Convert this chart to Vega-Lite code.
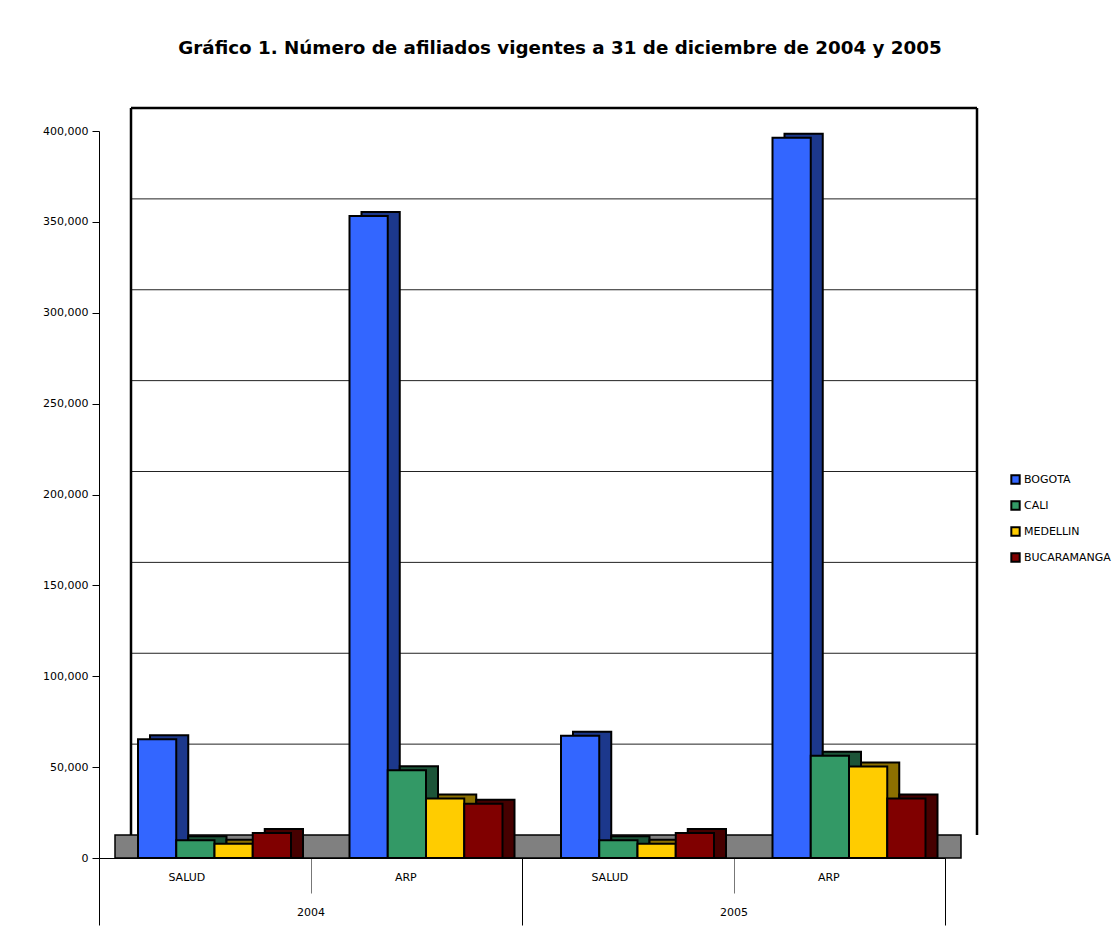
{
  "$schema": "https://vega.github.io/schema/vega-lite/v6.json",
  "width": 846,
  "height": 727,
  "autosize": {"type": "none"},
  "padding": {"left": 99, "top": 131, "right": 171, "bottom": 81},
  "background": "white",
  "title": {
    "text": "Gráfico 1. Número de afiliados vigentes a 31 de diciembre de 2004 y 2005",
    "font": "DejaVu Sans", "fontSize": 18.3, "fontWeight": "bold", "color": "black",
    "anchor": "middle", "frame": "group", "offset": 48, "dx": 38
  },
  "config": {
    "view": {"stroke": null},
    "axis": {"labelFont": "DejaVu Sans", "labelColor": "black", "labelFontSize": 11}
  },
  "data": {
    "values": [
      {"anio": "2004", "tipo": "SALUD", "grupo": "2004|SALUD", "ciudad": "BOGOTA", "valor": 62000},
      {"anio": "2004", "tipo": "SALUD", "grupo": "2004|SALUD", "ciudad": "CALI", "valor": 6500},
      {"anio": "2004", "tipo": "SALUD", "grupo": "2004|SALUD", "ciudad": "MEDELLIN", "valor": 4500},
      {"anio": "2004", "tipo": "SALUD", "grupo": "2004|SALUD", "ciudad": "BUCARAMANGA", "valor": 10500},
      {"anio": "2004", "tipo": "ARP", "grupo": "2004|ARP", "ciudad": "BOGOTA", "valor": 350000},
      {"anio": "2004", "tipo": "ARP", "grupo": "2004|ARP", "ciudad": "CALI", "valor": 45000},
      {"anio": "2004", "tipo": "ARP", "grupo": "2004|ARP", "ciudad": "MEDELLIN", "valor": 29500},
      {"anio": "2004", "tipo": "ARP", "grupo": "2004|ARP", "ciudad": "BUCARAMANGA", "valor": 26500},
      {"anio": "2005", "tipo": "SALUD", "grupo": "2005|SALUD", "ciudad": "BOGOTA", "valor": 64000},
      {"anio": "2005", "tipo": "SALUD", "grupo": "2005|SALUD", "ciudad": "CALI", "valor": 6500},
      {"anio": "2005", "tipo": "SALUD", "grupo": "2005|SALUD", "ciudad": "MEDELLIN", "valor": 4500},
      {"anio": "2005", "tipo": "SALUD", "grupo": "2005|SALUD", "ciudad": "BUCARAMANGA", "valor": 10500},
      {"anio": "2005", "tipo": "ARP", "grupo": "2005|ARP", "ciudad": "BOGOTA", "valor": 393000},
      {"anio": "2005", "tipo": "ARP", "grupo": "2005|ARP", "ciudad": "CALI", "valor": 53000},
      {"anio": "2005", "tipo": "ARP", "grupo": "2005|ARP", "ciudad": "MEDELLIN", "valor": 47000},
      {"anio": "2005", "tipo": "ARP", "grupo": "2005|ARP", "ciudad": "BUCARAMANGA", "valor": 29500}
    ]
  },
  "encoding": {
    "y": {
      "field": "valor", "type": "quantitative", "stack": null,
      "scale": {"domain": [0, 400000], "nice": false},
      "axis": {
        "title": null, "format": ",d", "values": [0, 50000, 100000, 150000, 200000, 250000, 300000, 350000, 400000],
        "grid": false, "domainColor": "black", "tickColor": "black", "tickSize": 7, "labelPadding": 4
      }
    }
  },
  "layer": [
    {
      "layer": [
        {
          "data": {"values": [
            {"nivel": 50000, "desde": "2004|SALUD", "hasta": "2005|ARP"},
            {"nivel": 100000, "desde": "2004|SALUD", "hasta": "2005|ARP"},
            {"nivel": 150000, "desde": "2004|SALUD", "hasta": "2005|ARP"},
            {"nivel": 200000, "desde": "2004|SALUD", "hasta": "2005|ARP"},
            {"nivel": 250000, "desde": "2004|SALUD", "hasta": "2005|ARP"},
            {"nivel": 300000, "desde": "2004|SALUD", "hasta": "2005|ARP"},
            {"nivel": 350000, "desde": "2004|SALUD", "hasta": "2005|ARP"}
          ]},
          "mark": {"type": "rule", "color": "#222", "strokeWidth": 1, "xOffset": 32, "x2Offset": 32, "yOffset": -23, "y2Offset": -23},
          "encoding": {
            "x": {"field": "desde", "type": "nominal", "bandPosition": 0},
            "x2": {"field": "hasta", "bandPosition": 1},
            "y": {"field": "nivel", "type": "quantitative"}
          }
        },
        {
          "data": {"values": [{"nivel": 400000, "desde": "2004|SALUD", "hasta": "2005|ARP"}]},
          "mark": {"type": "rule", "color": "black", "strokeWidth": 2.5, "xOffset": 32, "x2Offset": 32, "yOffset": -23, "y2Offset": -23},
          "encoding": {
            "x": {"field": "desde", "type": "nominal", "bandPosition": 0},
            "x2": {"field": "hasta", "bandPosition": 1},
            "y": {"field": "nivel", "type": "quantitative"}
          }
        },
        {
          "data": {"values": [{"borde": "2004|SALUD", "desde": 0, "hasta": 400000}]},
          "mark": {"type": "rule", "color": "black", "strokeWidth": 2.5, "xOffset": 32, "yOffset": -23, "y2Offset": -23},
          "encoding": {
            "x": {"field": "borde", "type": "nominal", "bandPosition": 0},
            "y": {"field": "desde", "type": "quantitative"},
            "y2": {"field": "hasta"}
          }
        },
        {
          "data": {"values": [{"borde": "2005|ARP", "desde": 0, "hasta": 400000}]},
          "mark": {"type": "rule", "color": "black", "strokeWidth": 2.5, "xOffset": 32, "yOffset": -23, "y2Offset": -23},
          "encoding": {
            "x": {"field": "borde", "type": "nominal", "bandPosition": 1},
            "y": {"field": "desde", "type": "quantitative"},
            "y2": {"field": "hasta"}
          }
        },
        {
          "data": {"values": [{"desde": "2004|SALUD", "hasta": "2005|ARP", "base": 0}]},
          "mark": {"type": "rect", "color": "#808080", "stroke": "black", "strokeWidth": 1.5, "xOffset": 16, "x2Offset": 16, "y2Offset": -23},
          "encoding": {
            "x": {"field": "desde", "type": "nominal", "bandPosition": 0},
            "x2": {"field": "hasta", "bandPosition": 1},
            "y": {"field": "base", "type": "quantitative"},
            "y2": {"field": "base"}
          }
        },
        {
          "mark": {"type": "bar", "yOffset": -10, "y2Offset": -10, "stroke": "black", "strokeWidth": 2},
          "encoding": {
            "x": {
              "field": "grupo", "type": "nominal",
              "scale": {"domain": ["2004|SALUD", "2004|ARP", "2005|SALUD", "2005|ARP"], "paddingInner": 0, "paddingOuter": 0},
              "axis": {
                "title": null, "labelAngle": 0, "labelExpr": "split(datum.label, '|')[1]",
                "tickBand": "extent", "tickSize": 35, "tickColor": "#777", "domainColor": "black",
                "labelPadding": -16, "labelFontSize": 11
              }
            },
            "xOffset": {
              "field": "ciudad", "type": "nominal",
              "scale": {"domain": ["BOGOTA", "CALI", "MEDELLIN", "BUCARAMANGA"], "range": [51, 204], "paddingInner": 0, "paddingOuter": 0}
            },
            "color": {
              "field": "ciudad", "type": "nominal",
              "scale": {"domain": ["BOGOTA", "CALI", "MEDELLIN", "BUCARAMANGA"], "range": ["#3366ff", "#339966", "#ffcc00", "#800000"]},
              "legend": {
                "title": " ", "titleFontSize": 11, "titlePadding": 332, "orient": "right", "offset": 65,
                "symbolType": "square", "symbolSize": 70, "symbolStrokeColor": "black", "symbolStrokeWidth": 2,
                "labelFont": "DejaVu Sans", "labelFontSize": 11, "labelColor": "black", "rowPadding": 9, "labelOffset": 3
              }
            }
          }
        },
        {
          "mark": {"type": "bar", "yOffset": -10, "y2Offset": -10, "color": "black", "opacity": 0.45},
          "encoding": {
            "x": {"field": "grupo", "type": "nominal"},
            "xOffset": {
              "field": "ciudad", "type": "nominal",
              "scale": {"domain": ["BOGOTA", "CALI", "MEDELLIN", "BUCARAMANGA"], "range": [51, 204], "paddingInner": 0, "paddingOuter": 0}
            }
          }
        },
        {
          "mark": {"type": "bar", "yOffset": -6, "y2Offset": -6, "stroke": "black", "strokeWidth": 2},
          "encoding": {
            "x": {
              "field": "grupo", "type": "nominal",
              "scale": {"domain": ["2004|SALUD", "2004|ARP", "2005|SALUD", "2005|ARP"], "paddingInner": 0, "paddingOuter": 0},
              "axis": {
                "title": null, "labelAngle": 0, "labelExpr": "split(datum.label, '|')[1]",
                "tickBand": "extent", "tickSize": 35, "tickColor": "#777", "domainColor": "black",
                "labelPadding": -16, "labelFontSize": 11
              }
            },
            "xOffset": {
              "field": "ciudad", "type": "nominal",
              "scale": {"domain": ["BOGOTA", "CALI", "MEDELLIN", "BUCARAMANGA"], "range": [39, 192], "paddingInner": 0, "paddingOuter": 0}
            },
            "color": {
              "field": "ciudad", "type": "nominal",
              "scale": {"domain": ["BOGOTA", "CALI", "MEDELLIN", "BUCARAMANGA"], "range": ["#3366ff", "#339966", "#ffcc00", "#800000"]},
              "legend": {
                "title": " ", "titleFontSize": 11, "titlePadding": 332, "orient": "right", "offset": 65,
                "symbolType": "square", "symbolSize": 70, "symbolStrokeColor": "black", "symbolStrokeWidth": 2,
                "labelFont": "DejaVu Sans", "labelFontSize": 11, "labelColor": "black", "rowPadding": 9, "labelOffset": 3
              }
            }
          }
        }
      ],
      "resolve": {"scale": {"xOffset": "independent"}}
    },
    {
      "mark": {"type": "point", "opacity": 0},
      "encoding": {
        "x": {
          "field": "anio", "type": "nominal",
          "scale": {"domain": ["2004", "2005"], "paddingInner": 0, "paddingOuter": 0},
          "axis": {
            "title": null, "orient": "bottom", "labelAngle": 0, "tickBand": "extent", "tickSize": 67,
            "tickColor": "black", "domain": false, "labelPadding": -19, "labelFontSize": 11
          }
        }
      }
    }
  ],
  "resolve": {"scale": {"x": "independent"}, "axis": {"x": "independent"}}
}
